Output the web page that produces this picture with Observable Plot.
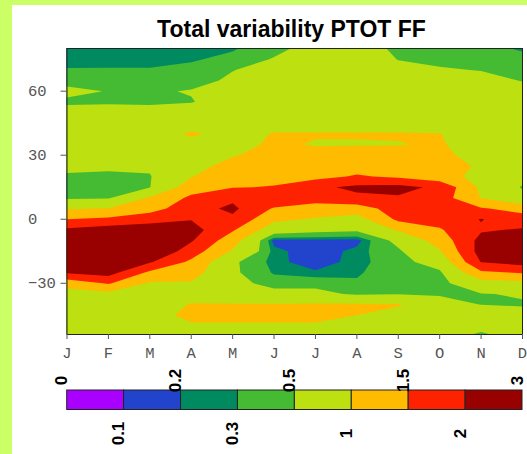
<!DOCTYPE html>
<html><head><meta charset="utf-8">
<script src="https://cdn.jsdelivr.net/npm/d3@7"></script>
<script src="https://cdn.jsdelivr.net/npm/@observablehq/plot@0.6"></script>
<style>
html,body{margin:0;padding:0;}
body{width:527px;height:454px;background:#ccff66;position:relative;overflow:hidden;}
#panel{position:absolute;left:12px;top:5px;right:0;bottom:0;background:#fff;}
#title{position:absolute;left:66px;width:451px;top:18px;text-align:center;font:bold 23px "Liberation Sans",Arial,sans-serif;line-height:23px;color:#000;}
#main{position:absolute;left:0;top:0;}
#bar{position:absolute;left:0;top:355px;}
</style></head><body>
<div id="panel"></div>
<div id="title">Total variability PTOT FF</div>
<div id="main"></div>
<div id="bar"></div>
<script>
const monthLabels = ["J","F","M","A","M","J","J","A","S","O","N","D"];
const monthNums = [1,2,3,4,5,6,7,8,9,10,11,12];
const lats = [80,75,70,65,60,55,50,45,40,35,30,25,20,15,10,5,0,-5,-10,-15,-20,-25,-30,-35,-40,-45,-50,-55];
const latTicks = [60,30,0,-30];
const levels = [0,0.1,0.2,0.3,0.5,1,1.5,2,3];
const levelLabels = ["0","0.1","0.2","0.3","0.5","1","1.5","2","3"];
const colors = ["#aa00ff","#2244cc","#008a60","#44bb33","#bde010","#ffbb00","#ff2200","#990000"];

// values per month, from 80N down to 55S (5 degree steps)
const jan = [0.25,0.25,0.31,0.42,0.56,0.46,0.6,0.7,0.7,0.7,0.7,0.6,0.45,0.4,0.45,0.95,1.5,2.1,2.5,2.6,2.5,2.05,1.2,0.8,0.75,0.75,0.7,0.7];
const feb = [0.25,0.26,0.31,0.4,0.49,0.47,0.6,0.7,0.7,0.7,0.65,0.55,0.45,0.4,0.47,1.02,1.6,2.25,2.6,2.7,2.6,2.2,1.55,0.85,0.75,0.8,0.7,0.7];
const mar = [0.25,0.26,0.31,0.4,0.46,0.46,0.6,0.75,0.75,0.72,0.65,0.55,0.48,0.49,1.05,1.3,1.8,2.3,2.6,2.5,2.05,1.4,0.95,0.8,0.8,0.85,0.75,0.7];
const apr = [0.26,0.28,0.35,0.4,0.52,0.48,0.7,0.8,1.06,0.85,0.8,0.85,0.98,1.25,1.6,1.8,1.98,2.2,2.05,1.75,1.4,1.2,0.95,0.85,1.02,1.1,0.95,0.9];
const may = [0.28,0.35,0.49,0.55,0.6,0.7,0.75,0.8,0.85,0.9,0.97,1.15,1.3,1.48,1.9,2.1,1.9,1.55,1.2,0.95,0.55,0.55,0.6,0.8,1.02,1.1,0.95,0.9];
const jun = [0.42,0.52,0.6,0.65,0.7,0.75,0.8,0.85,1.02,1.05,1.15,1.25,1.4,1.52,1.9,1.45,1.1,0.7,0.15,0.24,0.24,0.28,0.4,0.6,1.03,1.1,0.95,0.9];
const jul = [0.62,0.65,0.7,0.72,0.75,0.8,0.8,0.85,1.02,0.98,1.1,1.2,1.35,1.9,1.7,1.3,0.95,0.6,0.16,0.12,0.13,0.22,0.4,0.6,1.05,1.1,0.95,0.85];
const aug = [0.7,0.72,0.75,0.75,0.75,0.8,0.82,0.85,1.02,0.98,1.15,1.3,1.55,2.1,1.9,1.25,0.8,0.55,0.15,0.24,0.25,0.28,0.32,0.45,1.05,1.0,0.9,0.8];
const sep = [0.42,0.49,0.58,0.65,0.7,0.75,0.8,0.85,1.02,0.99,1.1,1.25,1.42,2.15,1.95,1.75,1.6,1.05,0.6,0.45,0.4,0.4,0.42,0.48,1.03,0.85,0.75,0.7];
const oct = [0.38,0.45,0.52,0.6,0.65,0.7,0.75,0.8,1.01,1.03,1.05,1.1,1.2,1.9,1.75,1.85,1.7,1.45,1.2,0.95,0.65,0.45,0.4,0.45,0.7,0.72,0.7,0.7];
const nov = [0.35,0.42,0.49,0.58,0.65,0.7,0.75,0.78,0.8,0.85,0.92,0.97,0.85,0.9,0.98,1.55,2.02,1.95,2.15,2.2,2.02,1.4,0.8,0.49,0.49,1.01,0.7,0.35];
const dec = [0.28,0.35,0.4,0.49,0.6,0.65,0.7,0.72,0.75,0.75,0.7,0.65,0.6,0.47,0.6,1.3,1.75,2.05,2.4,2.45,2.2,1.55,0.85,0.52,0.48,0.6,0.7,0.7];

const columns = [jan,feb,mar,apr,may,jun,jul,aug,sep,oct,nov,dec];
const grid = [];
for (let r = 0; r < lats.length; r++) for (let c = 0; c < columns.length; c++) grid.push(columns[c][r]);
const dx = (monthNums[1] - monthNums[0]) / 2;
const dy = (lats[0] - lats[1]) / 2;

const main = Plot.plot({
  width: 527, height: 370,
  marginLeft: 66.5, marginRight: 5, marginTop: 48, marginBottom: 36,
  style: {background: "transparent", fontFamily: "'Liberation Mono', monospace", fontSize: "15.5px", color: "#555"},
  x: {domain: [monthNums[0], monthNums[monthNums.length - 1]]},
  y: {domain: [-54, 80]},
  color: {type: "threshold", domain: levels.slice(1, -1), range: colors},
  marks: [
    Plot.contour(grid, {
      width: columns.length, height: lats.length,
      x1: monthNums[0] - dx, x2: monthNums[monthNums.length - 1] + dx,
      y1: lats[0] + dy, y2: lats[lats.length - 1] - dy,
      fill: Plot.identity, thresholds: levels, clip: true
    }),
    Plot.frame({stroke: "#222"}),
    Plot.axisX({ticks: monthNums, tickFormat: d => monthLabels[d - 1], tickSize: 5, tickPadding: 7, label: null, stroke: "#555", fill: "#555"}),
    Plot.axisY({ticks: latTicks, tickFormat: d => d < 0 ? "\u2212" + (-d) : String(d), tickSize: 6, tickPadding: 33, textAnchor: "start", label: null, stroke: "#555", fill: "#555"})
  ]
});
document.getElementById("main").append(main);

const barLabels = levelLabels.map((t, i) => ({t, i}));
const bar = Plot.plot({
  width: 527, height: 99,
  marginLeft: 66.7, marginRight: 5, marginTop: 35, marginBottom: 44.5,
  x: {domain: [0, colors.length], axis: null},
  y: {domain: [0, 1], axis: null},
  color: {type: "identity"},
  style: {background: "transparent"},
  marks: [
    Plot.rect(colors, {x1: (d, i) => i, x2: (d, i) => i + 1, y1: 0, y2: 1, fill: d => d, stroke: "#222", strokeWidth: 1}),
    Plot.text(barLabels.filter(d => d.i % 2 === 0), {x: "i", y: 1, text: "t", rotate: -90, dy: -10, dx: -5.4,
      fontFamily: "'Liberation Sans', Arial, sans-serif", fontWeight: "bold", fontSize: 17, fill: "#000"}),
    Plot.text(barLabels.filter(d => d.i % 2 === 1), {x: "i", y: 0, text: "t", rotate: -90, dy: 23.5, dx: -5.4,
      fontFamily: "'Liberation Sans', Arial, sans-serif", fontWeight: "bold", fontSize: 17, fill: "#000"})
  ]
});
document.getElementById("bar").append(bar);
</script></body></html>
